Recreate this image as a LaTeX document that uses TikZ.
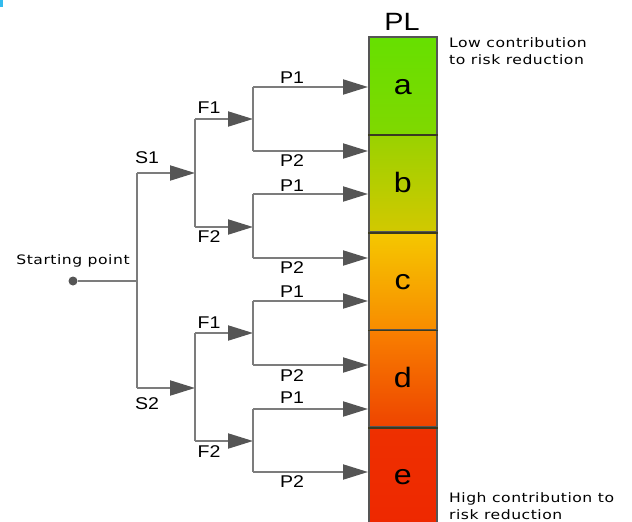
\documentclass[tikz,border=0pt]{standalone}
\usepackage{fontspec}
\setmainfont[FakeStretch=1.15]{Liberation Sans}
\newfontfamily\notefont[FakeStretch=1.2,LetterSpace=4]{DejaVu Sans}
\usetikzlibrary{arrows.meta}
\definecolor{linegray}{HTML}{7C7C7C}
\definecolor{tipgray}{HTML}{555555}
\definecolor{bordergray}{HTML}{555555}
\definecolor{divider}{HTML}{3A3A20}
\definecolor{cA1}{HTML}{66E000}
\definecolor{cA2}{HTML}{80D800}
\definecolor{cB1}{HTML}{99D200}
\definecolor{cB2}{HTML}{D2C800}
\definecolor{cC1}{HTML}{F5C800}
\definecolor{cC2}{HTML}{F88C00}
\definecolor{cD1}{HTML}{F88000}
\definecolor{cD2}{HTML}{EE4400}
\definecolor{cE1}{HTML}{EE3000}
\definecolor{cE2}{HTML}{EE2800}
\definecolor{accent}{HTML}{33BBEE}
\begin{document}
\begin{tikzpicture}[x=1pt,y=-1pt,
  wire/.style={draw=linegray,line width=2pt},
  arr/.style={wire,-{Triangle[length=25pt,width=15pt,color=tipgray]}},
  lbl/.style={font=\fontsize{17}{17}\selectfont,inner sep=0pt},
  seg/.style={draw=bordergray,line width=1.5pt,minimum width=68pt,minimum height=97.6pt,
    inner sep=0pt,anchor=north west,font=\fontsize{28}{28}\selectfont,
    text height=18pt,text depth=0pt},
  note/.style={font=\notefont\fontsize{13}{17}\selectfont,align=left,inner sep=0pt}]
\useasboundingbox (0,0) rectangle (632,522);
\fill[accent] (0,0) rectangle (3,7);

% PL bar
\node[seg,top color=cA1,bottom color=cA2] (sa) at (368,36) {a};
\node[seg,top color=cB1,bottom color=cB2] (sb) at (368,133.6) {b};
\node[seg,top color=cC1,bottom color=cC2] (sc) at (368,231.2) {c};
\node[seg,top color=cD1,bottom color=cD2] (sd) at (368,328.8) {d};
\node[seg,top color=cE1,bottom color=cE2] (se) at (368,426.4) {e};
\draw[divider,line width=1.6pt] (sa.south west) -- (sa.south east);
\draw[divider,line width=1.6pt] (sb.south west) -- (sb.south east);
\draw[divider,line width=1.6pt] (sc.south west) -- (sc.south east);
\draw[divider,line width=1.6pt] (sd.south west) -- (sd.south east);
\node[font=\fontsize{25}{25}\selectfont,inner sep=0pt,anchor=base] (pl) at (402,30) {PL};

\node[note,anchor=base west] (low) at (449,64) {Low contribution\\to risk reduction};
\node[note,anchor=base west] (high) at (449,519.5) {High contribution to\\risk reduction};

% tree
\node[circle,fill=tipgray,inner sep=0pt,minimum size=9pt] (start) at (73,281) {};
\node[note,anchor=base] (startlbl) at (73,264) {Starting point};
\coordinate (s0) at (137,281);
\coordinate (s1) at (137,173);
\coordinate (s2) at (137,388);
\coordinate (fu) at (195,173);
\coordinate (fl) at (195,388);
\coordinate (fu1) at (195,119);
\coordinate (fu2) at (195,227);
\coordinate (fl1) at (195,333);
\coordinate (fl2) at (195,441);
\coordinate (pa) at (253,119);
\coordinate (pb) at (253,227);
\coordinate (pc) at (253,333);
\coordinate (pd) at (253,441);
\coordinate (pa1) at (253,87);
\coordinate (pa2) at (253,151);
\coordinate (pb1) at (253,194);
\coordinate (pb2) at (253,258);
\coordinate (pc1) at (253,301);
\coordinate (pc2) at (253,365);
\coordinate (pd1) at (253,409);
\coordinate (pd2) at (253,472);

\draw[wire] (start) -- (s0);
\draw[wire] (s1) -- (s2);
\draw[arr] (s1) -- (fu);
\draw[arr] (s2) -- (fl);
\draw[wire] (fu1) -- (fu2);
\draw[wire] (fl1) -- (fl2);
\draw[arr] (fu1) -- (pa);
\draw[arr] (fu2) -- (pb);
\draw[arr] (fl1) -- (pc);
\draw[arr] (fl2) -- (pd);
\draw[wire] (pa1) -- (pa2);
\draw[wire] (pb1) -- (pb2);
\draw[wire] (pc1) -- (pc2);
\draw[wire] (pd1) -- (pd2);
\draw[arr] (pa1) -- (pa1 -| sa.west);
\draw[arr] (pa2) -- (pa2 -| sa.west);
\draw[arr] (pb1) -- (pb1 -| sb.west);
\draw[arr] (pb2) -- (pb2 -| sc.west);
\draw[arr] (pc1) -- (pc1 -| sc.west);
\draw[arr] (pc2) -- (pc2 -| sd.west);
\draw[arr] (pd1) -- (pd1 -| sd.west);
\draw[arr] (pd2) -- (pd2 -| se.west);

% labels
\node[lbl] (ls1) at (147,158) {S1};
\node[lbl] (ls2) at (147,404) {S2};
\node[lbl] (lf1u) at (209,108) {F1};
\node[lbl] (lf2u) at (209,237) {F2};
\node[lbl] (lf1l) at (209,323) {F1};
\node[lbl] (lf2l) at (209,452) {F2};
\node[lbl] (lp1a) at (292,78) {P1};
\node[lbl] (lp2a) at (292,161) {P2};
\node[lbl] (lp1b) at (292,186) {P1};
\node[lbl] (lp2b) at (292,268) {P2};
\node[lbl] (lp1c) at (292,292) {P1};
\node[lbl] (lp2c) at (292,376) {P2};
\node[lbl] (lp1d) at (292,398) {P1};
\node[lbl] (lp2d) at (292,482) {P2};
\end{tikzpicture}
\end{document}
